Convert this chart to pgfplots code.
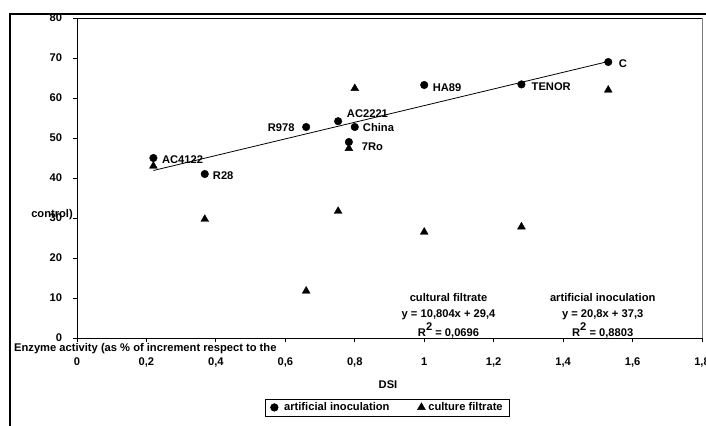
\documentclass[border=0pt]{standalone}
\usepackage{pgfplots}
\pgfplotsset{compat=1.18}
\usepackage{fontspec}
\setmainfont{Liberation Sans}
\newcommand{\ff}{\fontsize{11.2}{13}\selectfont\bfseries}
\begin{document}
\ff
\begin{tikzpicture}
\useasboundingbox (-77bp,-88bp) rectangle (629bp,338bp);
\begin{axis}[
  at={(0,0)}, anchor=south west,
  scale only axis, width=625bp, height=320bp,
  xmin=0, xmax=1.8, ymin=0, ymax=80,
  xtick={0,0.2,...,1.8}, ytick={0,10,...,80},
  axis x line*=bottom, axis y line*=left,
  tick align=outside, tick style={black, line width=0.8pt, major tick length=4bp},
  axis line style={line width=0.8pt},
  /pgf/number format/assume math mode=true,
  /pgf/number format/use comma,
  ticklabel style={font=\ff},
  xticklabel style={yshift=-12bp},
  yticklabel style={xshift=-7bp},
  clip=false,
  legend columns=2,
  legend style={at={(0.497,-0.217)}, anchor=center, draw=black, line width=0.6pt,
     font=\ff, inner xsep=5pt, inner ysep=1.5pt,
     /tikz/every even column/.append style={column sep=26bp}},
  legend cell align=left,
]
\addplot[only marks, mark=*, mark size=3.8bp, black] coordinates {
 (0.22,45) (0.368,41) (0.66,52.75) (0.752,54.2) (0.80,52.75) (0.783,49) (1.0,63.25) (1.28,63.4) (1.53,69)};
\addlegendentry{\hspace{4bp}artificial inoculation}
\addplot[only marks, mark=triangle*, mark size=4.5bp, black] coordinates {
 (0.22,43) (0.80,62.4) (0.783,47.4) (1.53,62) (0.368,29.7) (0.752,31.7) (0.66,11.75) (1.0,26.5) (1.28,27.8)};
\addlegendentry{\hspace{1bp}culture filtrate\hspace{16bp}}
\addplot[black, line width=0.8pt, forget plot] coordinates {(0.22,41.876) (1.53,69.124)};
\draw[gray, line width=0.8pt] (rel axis cs:1,0) -- (rel axis cs:1,1);
\draw[black, line width=0.6pt] (rel axis cs:0,1) -- (rel axis cs:1,1);
\begin{scope}[every node/.style={inner sep=0pt, font=\ff}]
\node[anchor=west] at (axis cs:0.2446,44.5) {AC4122};
\node[anchor=west] at (axis cs:0.391,40.5) {R28};
\node[anchor=east] at (axis cs:0.627,52.5) {R978};
\node[anchor=west] at (axis cs:0.777,56) {AC2221};
\node[anchor=west] at (axis cs:0.823,52.5) {China};
\node[anchor=west] at (axis cs:0.820,47.75) {7Ro};
\node[anchor=west] at (axis cs:1.024,62.5) {HA89};
\node[anchor=west] at (axis cs:1.309,62.75) {TENOR};
\node[anchor=west] at (axis cs:1.56,68.5) {C};
\node[anchor=base] at (axis cs:1.07,9.25) {cultural filtrate};
\node[anchor=base] at (axis cs:1.07,5.25) {y = 10,804x + 29,4};
\node[anchor=base] at (axis cs:1.07,0.3) {R\raisebox{0.55em}{2} = 0,0696};
\node[anchor=base] at (axis cs:1.514,9.25) {artificial inoculation};
\node[anchor=base] at (axis cs:1.514,5.25) {y = 20,8x + 37,3};
\node[anchor=base] at (axis cs:1.514,0.3) {R\raisebox{0.55em}{2} = 0,8803};
\end{scope}
\end{axis}
\begin{scope}[every node/.style={inner sep=0pt, font=\ff}]
\node at (311bp,-47bp) {DSI};
\node[anchor=west] at (-63bp,-11bp) {Enzyme activity (as \% of increment respect to the};
\node[anchor=east] at (-4bp,123bp) {control)};
\end{scope}
\draw[black, line width=1.6pt] (-67bp,-88bp) -- (-67bp,324bp) -- (629bp,324bp);
\end{tikzpicture}
\end{document}
